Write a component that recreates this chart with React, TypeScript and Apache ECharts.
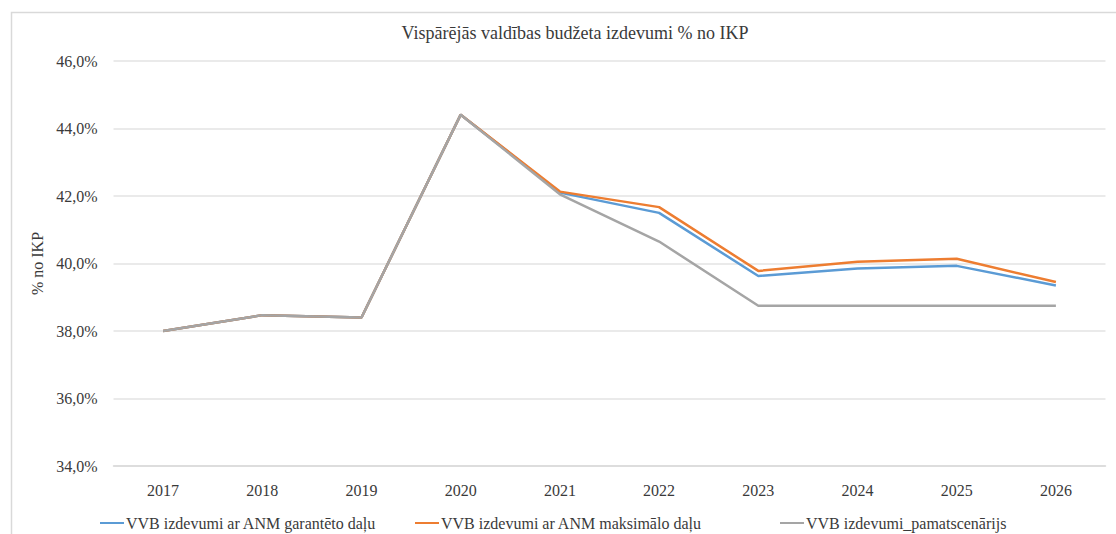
import React, { useEffect, useRef } from "react";
import * as echarts from "echarts";

const years = ["2017", "2018", "2019", "2020", "2021", "2022", "2023", "2024", "2025", "2026"];
const garantetoDalu = [38.0, 38.47, 38.4, 44.41, 42.1, 41.5, 39.63, 39.85, 39.93, 39.35];
const maksimaloDalu = [38.0, 38.47, 38.4, 44.41, 42.13, 41.67, 39.78, 40.05, 40.14, 39.45];
const pamatscenarijs = [38.0, 38.47, 38.4, 44.41, 42.05, 40.65, 38.75, 38.75, 38.75, 38.75];
const seriesNames = [
  "VVB izdevumi ar ANM garantēto daļu",
  "VVB izdevumi ar ANM maksimālo daļu",
  "VVB izdevumi_pamatscenārijs",
];
const legendLefts = [95, 410, 775];
const titleText = "Vispārējās valdības budžeta izdevumi % no IKP";
const yAxisName = "% no IKP";

const FONT = "'Liberation Serif', 'DejaVu Serif', serif";

export default function App() {
  const ref = useRef<HTMLDivElement>(null);
  useEffect(() => {
    if (!ref.current) return;
    const chart = echarts.init(ref.current, undefined, { renderer: "svg" });
    const mk = (name: string, data: number[], color: string) => ({
      name,
      type: "line",
      data,
      symbol: "none",
      lineStyle: { color, width: 2.5 },
      itemStyle: { color },
    });
    chart.setOption({
      animation: false,
      backgroundColor: "#ffffff",
      textStyle: { fontFamily: FONT },
      title: {
        text: titleText,
        left: 570,
        top: 19,
        textAlign: "center",
        textStyle: { fontFamily: FONT, fontSize: 18, fontWeight: "normal", color: "#3a3a3a" },
      },
      graphic: [
        {
          type: "rect",
          shape: { x: 11.5, y: 12.5, width: 1120, height: 540 },
          style: { fill: "none", stroke: "#d9d9d9", lineWidth: 1.5 },
          silent: true,
        },
      ],
      legend: seriesNames.map((n, i) => ({
        left: legendLefts[i],
        top: 510,
        itemWidth: 24,
        itemHeight: 2,
        icon: "rect",
        textStyle: { fontFamily: FONT, fontSize: 16, color: "#3a3a3a", padding: [0, 0, 0, -3] },
        data: [n],
      })),
      grid: { left: 113.5, right: 10.5, top: 61, bottom: 68, containLabel: false },
      xAxis: {
        type: "category",
        data: years,
        boundaryGap: true,
        axisLine: { show: true, lineStyle: { color: "#d9d9d9", width: 1.5 } },
        axisTick: { show: false },
        axisLabel: { margin: 16, fontFamily: FONT, fontSize: 16, color: "#3a3a3a" },
      },
      yAxis: {
        type: "value",
        min: 34,
        max: 46,
        interval: 2,
        name: yAxisName,
        nameLocation: "middle",
        nameGap: 65,
        nameTextStyle: { fontFamily: FONT, fontSize: 16, color: "#3a3a3a" },
        axisLine: { show: false },
        axisTick: { show: false },
        splitLine: { lineStyle: { color: "#e3e3e3", width: 1.5 } },
        axisLabel: {
          margin: 16,
          fontFamily: FONT,
          fontSize: 16,
          color: "#3a3a3a",
          formatter: (v: number) => v.toFixed(1).replace(".", ",") + "%",
        },
      },
      series: [
        mk(seriesNames[0], garantetoDalu, "#5B9BD5"),
        mk(seriesNames[1], maksimaloDalu, "#ED7D31"),
        mk(seriesNames[2], pamatscenarijs, "#A5A5A5"),
      ],
    });
    return () => chart.dispose();
  }, []);
  return (
    <div
      ref={ref}
      style={{ position: "absolute", left: 0, top: 0, width: 1116, height: 534 }}
    />
  );
}
